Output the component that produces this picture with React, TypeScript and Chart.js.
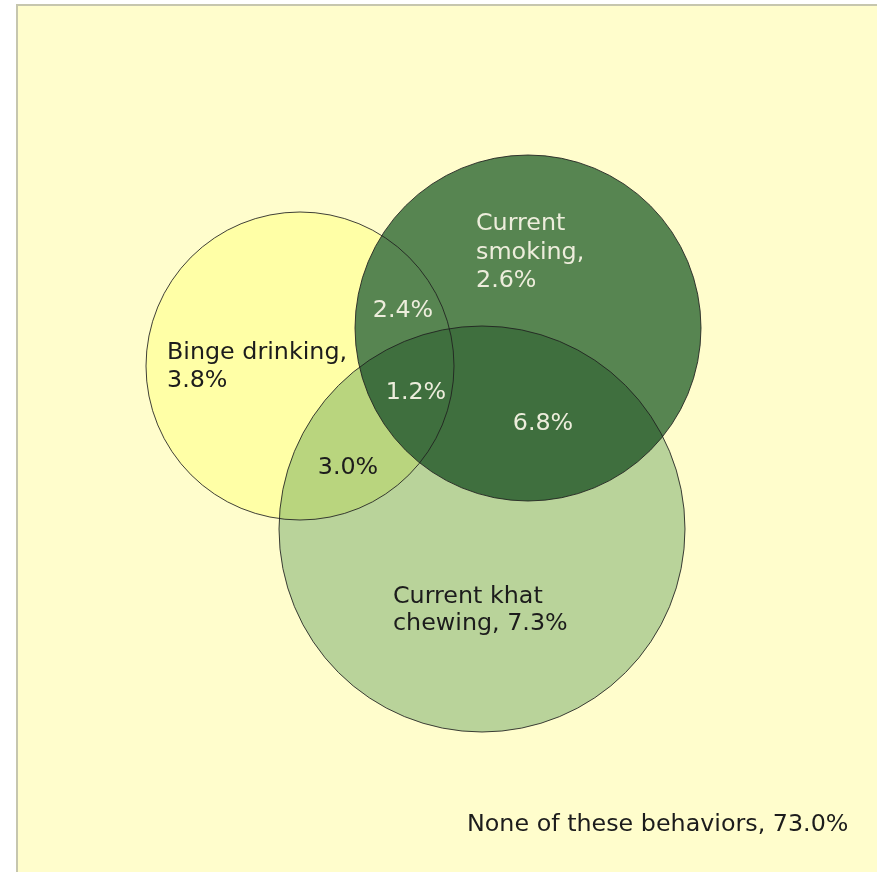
import React, { useEffect, useRef } from "react";
import { Chart, registerables } from "chart.js";

Chart.register(...registerables);

// ---- data ----
const setNames = ["Binge drinking", "Current smoking", "Current khat chewing"];
const onlyValues = [3.8, 2.6, 7.3];
const pairNames = ["Binge drinking + smoking", "Binge drinking + khat", "Smoking + khat"];
const pairValues = [2.4, 3.0, 6.8];
const allThreeValue = 1.2;
const noneLabel = "None of these behaviors";
const noneValue = 73.0;

// ---- layout (data units; scales map 1:1 to canvas) ----
const W = 877;
const H = 872;
const circles = [
  { cx: 300, cy: 366, r: 154 },
  { cx: 528, cy: 328, r: 173 },
  { cx: 482, cy: 529, r: 203 },
];
const circleColors = ["#FFFFA6", "#578551", "#B9D5C1"];
const setLabelPos = [
  { x: 167, y: 359, lh: 28, breaks: [2], color: "#1c1c1c" },
  { x: 476, y: 230, lh: 28.5, breaks: [1, 2], color: "#EDEDDC" },
  { x: 393, y: 603, lh: 27, breaks: [2], color: "#1c1c1c" },
];
const pairLabelPos = [
  { x: 403, y: 317, color: "#EDEDDC" },
  { x: 348, y: 474, color: "#1c1c1c" },
  { x: 543, y: 430, color: "#EDEDDC" },
];
const allLabelPos = { x: 416, y: 399, color: "#EDEDDC" };
const noneLabelPos = { x: 467, y: 831, color: "#1c1c1c" };
const FONT = '23.8px "DejaVu Sans", Verdana, sans-serif';

const fmt = (v: number) => v.toFixed(1) + "%";

function splitLines(text: string, breaks: number[]) {
  const words = text.split(" ");
  const lines: string[] = [];
  let start = 0;
  for (const b of [...breaks, words.length]) {
    lines.push(words.slice(start, b).join(" "));
    start = b;
  }
  return lines;
}

function circlePath(chart: any, c: { cx: number; cy: number; r: number }) {
  const sx = chart.scales.x;
  const sy = chart.scales.y;
  const r = Math.abs(sx.getPixelForValue(c.r) - sx.getPixelForValue(0));
  const ctx = chart.ctx;
  ctx.beginPath();
  ctx.arc(sx.getPixelForValue(c.cx), sy.getPixelForValue(c.cy), r, 0, Math.PI * 2);
}

const vennPlugin = {
  id: "venn",
  beforeDraw(chart: any) {
    const { ctx } = chart;
    const sx = chart.scales.x;
    const sy = chart.scales.y;
    ctx.save();
    ctx.fillStyle = "#ffffff";
    ctx.fillRect(0, 0, chart.width, chart.height);
    const x0 = sx.getPixelForValue(16);
    const y0 = sy.getPixelForValue(4);
    ctx.fillStyle = "#C6C6AE";
    ctx.fillRect(x0, y0, chart.width - x0, chart.height - y0);
    ctx.fillStyle = "#FFFDCC";
    ctx.fillRect(x0 + 2, y0 + 2, chart.width - x0 - 2, chart.height - y0 - 2);
    ctx.restore();
  },
  afterDatasetsDraw(chart: any) {
    const { ctx } = chart;
    ctx.save();
    // fills: binge, smoking (opaque), khat (multiply)
    circles.forEach((c, i) => {
      ctx.globalCompositeOperation = i === 2 ? "multiply" : "source-over";
      ctx.fillStyle = circleColors[i];
      circlePath(chart, c);
      ctx.fill();
    });
    ctx.globalCompositeOperation = "source-over";
    ctx.strokeStyle = "rgba(30,30,30,0.85)";
    ctx.lineWidth = 1;
    circles.forEach((c) => {
      circlePath(chart, c);
      ctx.stroke();
    });
    ctx.restore();
  },
  afterDraw(chart: any) {
    const { ctx } = chart;
    const sx = chart.scales.x;
    const sy = chart.scales.y;
    ctx.save();
    ctx.font = FONT;
    ctx.textBaseline = "alphabetic";
    setNames.forEach((name, i) => {
      const p = setLabelPos[i];
      const lines = splitLines(`${name}, ${fmt(onlyValues[i])}`, p.breaks);
      ctx.fillStyle = p.color;
      ctx.textAlign = "left";
      lines.forEach((ln, k) => {
        ctx.fillText(ln, sx.getPixelForValue(p.x), sy.getPixelForValue(p.y + k * p.lh));
      });
    });
    pairValues.forEach((v, i) => {
      const p = pairLabelPos[i];
      ctx.fillStyle = p.color;
      ctx.textAlign = "center";
      ctx.fillText(fmt(v), sx.getPixelForValue(p.x), sy.getPixelForValue(p.y));
    });
    ctx.fillStyle = allLabelPos.color;
    ctx.textAlign = "center";
    ctx.fillText(fmt(allThreeValue), sx.getPixelForValue(allLabelPos.x), sy.getPixelForValue(allLabelPos.y));
    ctx.fillStyle = noneLabelPos.color;
    ctx.textAlign = "left";
    ctx.fillText(`${noneLabel}, ${fmt(noneValue)}`, sx.getPixelForValue(noneLabelPos.x), sy.getPixelForValue(noneLabelPos.y));
    ctx.restore();
  },
};

export default function App() {
  const ref = useRef<HTMLCanvasElement | null>(null);
  useEffect(() => {
    if (!ref.current) return;
    const chart = new Chart(ref.current, {
      type: "scatter",
      data: {
        datasets: circles.map((c, i) => ({
          label: setNames[i],
          data: [{ x: c.cx, y: c.cy }],
          pointRadius: 0,
          pointHoverRadius: 0,
          borderWidth: 0,
        })),
      },
      options: {
        animation: false,
        responsive: false,
        events: [],
        layout: { padding: 0, autoPadding: false },
        plugins: { legend: { display: false }, tooltip: { enabled: false } },
        scales: {
          x: { type: "linear", min: 0, max: W, display: false },
          y: { type: "linear", min: 0, max: H, reverse: true, display: false },
        },
      },
      plugins: [vennPlugin],
    } as any);
    return () => chart.destroy();
  }, []);
  return (
    <div style={{ position: "absolute", left: 0, top: 0, width: W, height: H }}>
      <canvas ref={ref} width={W} height={H} style={{ display: "block" }} />
    </div>
  );
}
